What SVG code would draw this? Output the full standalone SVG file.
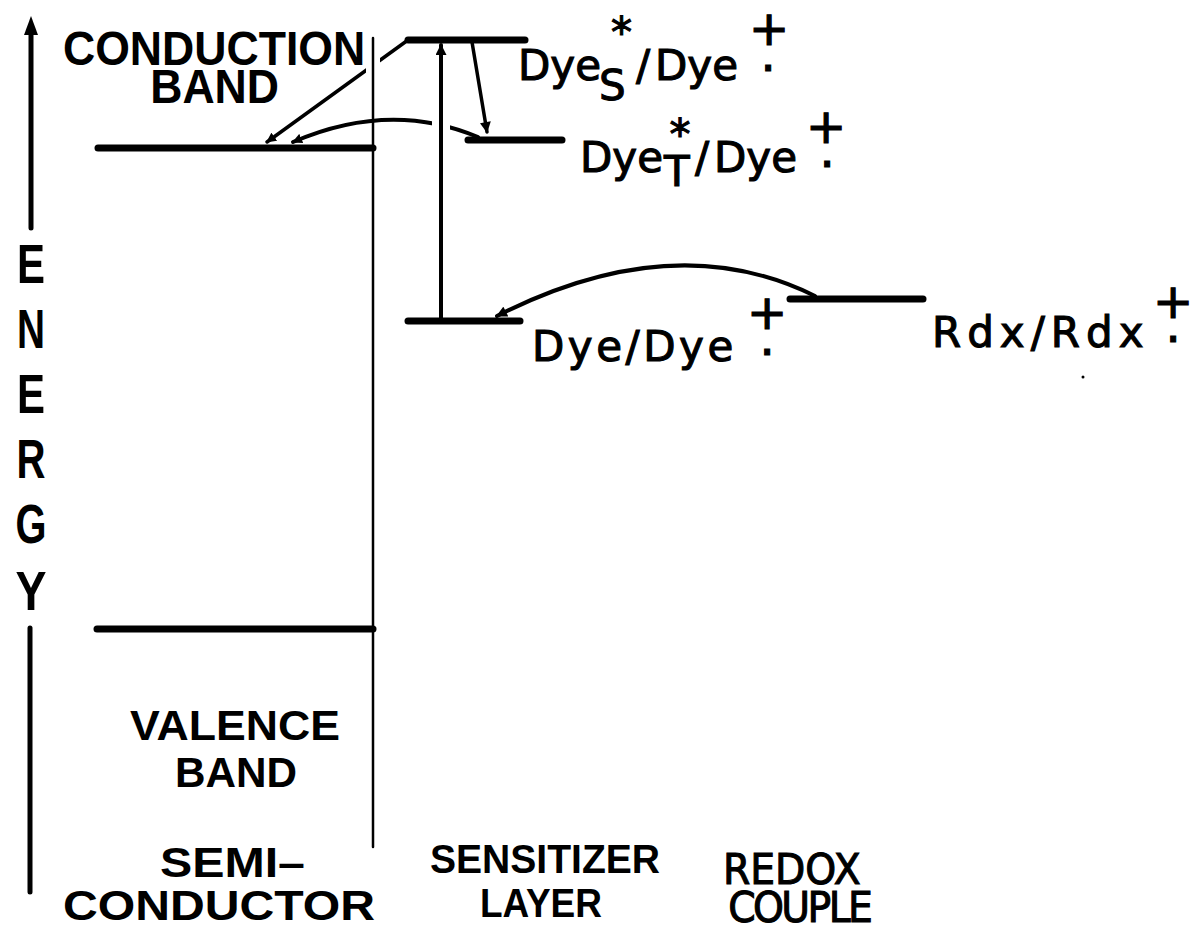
<svg xmlns="http://www.w3.org/2000/svg" width="1196" height="933" viewBox="0 0 1196 933">
<style>
.lbl{font-family:"Liberation Sans",Arial,sans-serif;font-weight:700;fill:#000}
.dye{font-family:"DejaVu Sans","Liberation Sans",sans-serif;font-weight:400;font-size:42px;fill:#000;stroke:#000;stroke-width:1.1}
.rad{font-family:"DejaVu Sans","Liberation Sans",sans-serif;font-weight:400;font-size:48px;fill:#000;stroke:#000;stroke-width:1.2}
.lvl{stroke:#000;stroke-width:7;stroke-linecap:round;fill:none}
.ln{stroke:#000;fill:none;stroke-linecap:round}
.gap{stroke:#fff;fill:none}
</style>
<defs>
<marker id="ah" viewBox="0 0 10 10" refX="9" refY="5" markerWidth="13" markerHeight="11" orient="auto" markerUnits="userSpaceOnUse">
<path d="M0,0 L10,5 L0,10 z" fill="#000"/>
</marker>
<marker id="ahs" viewBox="0 0 10 10" refX="9" refY="5" markerWidth="10" markerHeight="10" orient="auto" markerUnits="userSpaceOnUse">
<path d="M0,0 L10,5 L0,10 z" fill="#000"/>
</marker>
</defs>
<rect width="1196" height="933" fill="#fff"/>

<g id="connectors">
<path class="ln" d="M408,40 L267,142" stroke-width="3.5" marker-end="url(#ahs)"/>
<path class="ln" d="M478,137 Q390,100 293,142" stroke-width="4" marker-end="url(#ahs)"/>
<path class="ln" d="M815,296 Q674,226 497,316" stroke-width="4" marker-end="url(#ah)"/>
<path class="ln" d="M472,42 L487,132" stroke-width="3.5" marker-end="url(#ah)"/>
<line class="gap" x1="441" y1="110" x2="441" y2="134" stroke-width="18"/>
<line class="gap" x1="373" y1="56" x2="373" y2="78" stroke-width="14"/>
<path class="ln" d="M441,321 L441,45" stroke-width="4" marker-end="url(#ah)"/>
</g>

<g id="energy-axis">
<path class="ln" d="M31,228 L31,30" stroke-width="5"/>
<path d="M31,16 L24,35 L38,35 z" fill="#000"/>
<line class="ln" x1="30" y1="628" x2="30" y2="892" stroke-width="5"/>
<text class="lbl" x="31" y="283" font-size="56" text-anchor="middle" textLength="28" lengthAdjust="spacingAndGlyphs">E</text>
<text class="lbl" x="31" y="348" font-size="56" text-anchor="middle" textLength="28" lengthAdjust="spacingAndGlyphs">N</text>
<text class="lbl" x="31" y="413" font-size="56" text-anchor="middle" textLength="28" lengthAdjust="spacingAndGlyphs">E</text>
<text class="lbl" x="31" y="478" font-size="56" text-anchor="middle" textLength="29" lengthAdjust="spacingAndGlyphs">R</text>
<text class="lbl" x="31" y="543" font-size="56" text-anchor="middle" textLength="31" lengthAdjust="spacingAndGlyphs">G</text>
<text class="lbl" x="31" y="610" font-size="56" text-anchor="middle" textLength="31" lengthAdjust="spacingAndGlyphs">Y</text>
</g>

<g id="semiconductor">
<line class="ln" x1="373" y1="38" x2="373" y2="847" stroke-width="2.5"/>
<line class="lvl" x1="98" y1="148" x2="373" y2="148"/>
<line class="lvl" x1="97" y1="629" x2="373" y2="629"/>
<text class="lbl" font-size="48" transform="scale(0.929,1)" x="67.8" y="65" dx="0 0 0 0 0 0 0 0 0 0 0 -244.7" dy="0 0 0 0 0 0 0 0 0 0 0 38">CONDUCTION BAND</text>
<text class="lbl" x="130" y="740" font-size="42" textLength="210" lengthAdjust="spacingAndGlyphs">VALENCE</text>
<text class="lbl" x="175" y="787" font-size="42" textLength="122" lengthAdjust="spacingAndGlyphs">BAND</text>
<text class="lbl" x="160" y="877" font-size="42" textLength="145" lengthAdjust="spacingAndGlyphs">SEMI–</text>
<text class="lbl" x="63" y="920" font-size="42" textLength="312" lengthAdjust="spacingAndGlyphs">CONDUCTOR</text>
</g>

<g id="dye-singlet">
<line class="lvl" x1="408" y1="40" x2="525" y2="40"/>
<text class="dye" x="518 550.3 575.2 599 611 636 655 687.3 712.2" y="80 80 80 100 47 80 80 80 80">DyeS*/Dye</text>
<text class="rad" x="748.9 760.4" y="45.4 70.6">+.</text>
</g>

<g id="dye-triplet">
<line class="lvl" x1="468" y1="140" x2="562" y2="140"/>
<text class="dye" x="580 612.3 637.2 664 669.5 695 714 746.3 771.2" y="172 172 172 186 149 172 172 172 172">DyeT*/Dye</text>
<text class="rad" x="805.9 819.4" y="143.4 166.6">+.</text>
</g>

<g id="dye-ground">
<line class="lvl" x1="408" y1="321" x2="520" y2="321"/>
<text class="dye" x="532" y="361" letter-spacing="3.5">Dye/Dye</text>
<text class="rad" x="746.9 759.4" y="329.4 354.6">+.</text>
</g>

<g id="redox">
<line class="lvl" x1="790" y1="299" x2="923" y2="299"/>
<text class="dye" x="932" y="347" font-size="40" letter-spacing="6">Rdx/Rdx</text>
<text class="rad" x="1152.9 1165.4" y="318.4 341.6" font-size="50">+.</text>
<circle cx="1083" cy="377" r="1.5" fill="#000"/>
</g>

<g id="layer-labels">
<text class="lbl" x="430" y="873" font-size="40" textLength="230" lengthAdjust="spacingAndGlyphs">SENSITIZER</text>
<text class="lbl" x="480" y="917" font-size="40" textLength="122" lengthAdjust="spacingAndGlyphs">LAYER</text>
<text class="dye" font-size="41" transform="scale(0.936,1)" x="772.4" y="884" dx="0 0 0 0 0 0 -155 -2.76 -2.76 -2.76 -2.76 -2.76" dy="0 0 0 0 0 0 38">REDOX COUPLE</text>
</g>
</svg>
